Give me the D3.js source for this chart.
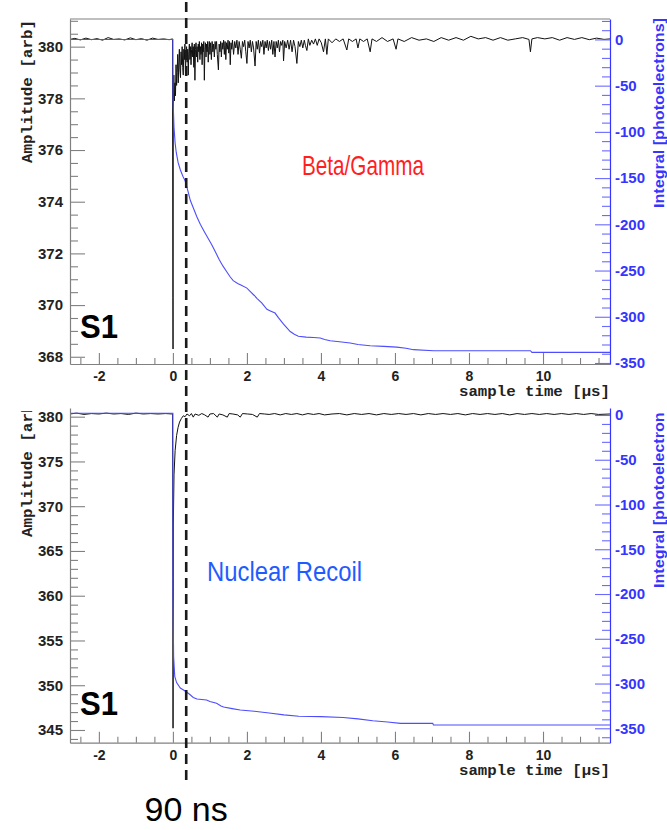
<!DOCTYPE html>
<html><head><meta charset="utf-8">
<script src="https://cdn.jsdelivr.net/npm/d3@7"></script>
<style>body{margin:0;background:#fff}svg{display:block}</style>
</head><body><svg id="c" width="667" height="830"></svg>
<script>
// ---------- data ----------
const xTicks = [-2, 0, 2, 4, 6, 8, 10];
const topAmpTicks = [368, 370, 372, 374, 376, 378, 380];
const botAmpTicks = [345, 350, 355, 360, 365, 370, 375, 380];
const integralTicks = [0, -50, -100, -150, -200, -250, -300, -350];
const panelTitles = ["Beta/Gamma", "Nuclear Recoil"];
const signalLabel = "S1";
const cutLabel = "90 ns";
const cutTime = 0.36; // position of the dashed line on the time axis (µs)

const topAmplitude = [
 [-2.78,380.28],[-2.65,380.32],[-2.5,380.26],[-2.35,380.33],[-2.2,380.27],[-2.05,380.31],[-1.9,380.25],[-1.75,380.35],
 [-1.6,380.28],[-1.45,380.3],[-1.3,380.26],[-1.15,380.34],[-1.0,380.27],[-0.85,380.31],[-0.7,380.25],[-0.55,380.33],
 [-0.4,380.28],[-0.25,380.3],[-0.1,380.27],[-0.01,380.3],[0.0,370.3],[0.004,368.3],[0.01,377.6],
 [0.025,378.9],[0.04,377.9],[0.055,378.6],[0.07,378.1],[0.085,379.3],[0.1,378.5],[0.115,379.0],[0.13,379.7],
 [0.145,378.6],[0.16,379.4],[0.175,379.9],[0.19,379.1],[0.205,378.8],[0.22,379.8],[0.235,379.3],[0.25,380.0],
 [0.265,379.2],[0.28,378.9],[0.295,379.9],[0.31,379.5],[0.325,380.1],[0.34,379.0],[0.355,379.7],[0.37,380.0],
 [0.385,379.4],[0.4,379.9],[0.415,378.9],[0.43,379.8],[0.445,380.1],[0.46,379.5],[0.475,380.0],[0.49,379.3],
 [0.505,379.9],[0.52,380.15],[0.535,379.6],[0.55,380.0],[0.565,379.2],[0.58,380.1],[0.595,378.7],[0.61,379.9],
 [0.625,380.15],[0.64,379.6],[0.655,380.0],[0.67,379.4],[0.685,380.1],[0.7,379.8],[0.715,380.2],[0.73,379.5],
 [0.745,380.0],[0.76,379.7],[0.775,380.15],[0.79,379.3],[0.805,380.1],[0.82,379.8],[0.835,380.2],[0.85,378.7],
 [0.865,379.9],[0.88,380.15],[0.895,379.6],[0.91,380.1],[0.925,379.8],[0.94,380.2],[0.955,379.4],[0.97,380.0],
 [0.985,380.2],[1.0,379.7],[1.02,380.15],[1.04,379.5],[1.06,380.2],[1.08,379.8],[1.1,380.1],[1.12,379.6],
 [1.14,380.2],[1.16,379.9],[1.18,380.2],[1.2,379.7],[1.23,379.1],[1.25,380.1],[1.27,379.8],[1.29,380.2],
 [1.31,379.6],[1.33,380.15],[1.35,379.9],[1.37,380.25],[1.39,379.7],[1.41,380.2],[1.43,379.5],[1.45,380.15],
 [1.47,379.9],[1.49,380.25],[1.51,379.75],[1.53,380.2],[1.55,379.3],[1.57,380.15],[1.59,379.9],[1.61,380.25],
 [1.64,379.7],[1.67,380.2],[1.7,379.95],[1.73,380.25],[1.76,379.7],[1.79,380.2],[1.82,379.9],[1.85,379.55],
 [1.88,380.2],[1.91,380.0],[1.94,380.25],[1.97,379.8],[2.0,379.35],[2.03,380.2],[2.06,379.95],[2.09,380.25],
 [2.12,379.8],[2.15,380.2],[2.18,379.95],[2.22,379.25],[2.25,380.2],[2.28,379.9],[2.31,380.25],[2.34,379.75],
 [2.37,380.2],[2.4,380.0],[2.43,380.25],[2.46,379.7],[2.49,380.2],[2.52,379.95],[2.55,380.25],[2.58,379.85],
 [2.61,380.2],[2.64,379.9],[2.67,380.25],[2.7,379.7],[2.73,380.2],[2.76,379.6],[2.79,380.2],[2.82,379.95],
 [2.85,380.25],[2.88,379.8],[2.91,380.2],[2.94,380.05],[2.97,380.25],[2.99,379.45],[3.02,380.2],[3.06,379.95],
 [3.1,380.25],[3.14,379.9],[3.18,380.25],[3.22,379.8],[3.26,380.25],[3.3,380.0],[3.35,379.35],[3.39,380.2],
 [3.43,380.0],[3.47,380.25],[3.51,379.95],[3.55,380.25],[3.58,380.05],[3.62,379.85],[3.66,380.3],[3.7,380.05],
 [3.75,380.25],[3.8,380.1],[3.85,380.3],[3.9,380.05],[3.95,380.3],[4.01,380.15],[4.07,379.8],[4.12,380.3],
 [4.16,379.7],[4.2,380.3],[4.3,380.15],[4.4,380.3],[4.5,380.2],[4.6,380.3],[4.7,379.87],[4.75,380.3],
 [4.85,380.2],[4.95,380.3],[5.0,379.95],[5.05,380.3],[5.15,380.2],[5.25,380.3],[5.33,379.8],[5.38,380.3],
 [5.5,380.2],[5.65,380.35],[5.8,380.2],[5.95,380.3],[6.03,379.9],[6.08,380.3],[6.25,380.2],[6.45,380.35],
 [6.65,380.25],[6.85,380.3],[7.05,380.2],[7.25,380.35],[7.45,380.25],[7.65,380.35],[7.85,380.25],[8.05,380.4],
 [8.25,380.3],[8.45,380.35],[8.65,380.25],[8.85,380.35],[9.05,380.25],[9.25,380.3],[9.45,380.35],[9.62,380.28],
 [9.66,379.8],[9.7,380.3],[9.85,380.35],[10.05,380.3],[10.25,380.35],[10.45,380.25],[10.65,380.35],[10.85,380.28],
 [11.05,380.35],[11.25,380.27],[11.45,380.33],[11.65,380.28],[11.81,380.3]
];

const topIntegral = [
 [-2.78,0],[0,0],[0.005,-66],[0.03,-95],[0.06,-112],[0.09,-122],[0.14,-133],[0.2,-141],[0.27,-148],[0.33,-153],
 [0.4,-163],[0.47,-174],[0.55,-182],[0.65,-192],[0.74,-200],[0.85,-208],[0.95,-215],[1.05,-222],[1.15,-230],
 [1.25,-238],[1.35,-245],[1.45,-251],[1.55,-257],[1.63,-261],[1.75,-264],[1.85,-266],[2.0,-269],[2.1,-273],
 [2.2,-277],[2.27,-280],[2.4,-285],[2.54,-292],[2.65,-294],[2.76,-296],[2.85,-301],[2.99,-308],[3.08,-312],
 [3.17,-316],[3.28,-319],[3.39,-321],[3.6,-322],[3.8,-322.5],[3.98,-323],[4.1,-324.5],[4.25,-326],[4.5,-327],
 [4.79,-328.4],[5.0,-330],[5.33,-331.3],[5.7,-332],[6.05,-332.8],[6.3,-334],[6.5,-335.6],[7.04,-336.7],
 [9.66,-336.7],[9.7,-338.5],[11.81,-338.5]
];

const botAmplitude = [
 [-2.78,380.3],[-2.6,380.4],[-2.4,380.25],[-2.2,380.35],[-2.0,380.3],[-1.8,380.4],[-1.6,380.3],[-1.4,380.35],
 [-1.2,380.25],[-1.0,380.4],[-0.8,380.3],[-0.6,380.35],[-0.4,380.3],[-0.2,380.35],[-0.01,380.3],[0.0,362],
 [0.004,345.2],[0.012,368],[0.03,373.5],[0.06,376.2],[0.1,377.9],[0.14,378.8],[0.18,379.4],[0.23,379.8],
 [0.28,380.1],[0.33,380.0],[0.38,380.3],[0.45,380.1],[0.5,380.35],[0.55,379.95],[0.6,380.3],[0.7,380.15],
 [0.78,380.35],[0.86,380.2],[0.95,379.95],[1.0,380.3],[1.1,380.35],[1.2,379.95],[1.25,380.3],[1.35,380.2],
 [1.47,379.95],[1.52,380.35],[1.62,380.3],[1.75,380.2],[1.82,379.95],[1.88,380.35],[2.02,380.3],[2.15,380.25],
 [2.28,379.95],[2.34,380.35],[2.48,380.3],[2.6,380.25],[2.75,380.35],[2.9,380.2],[3.05,380.35],[3.2,380.25],
 [3.35,380.35],[3.5,380.2],[3.65,380.35],[3.8,380.25],[3.95,380.35],[4.1,380.2],[4.3,380.3],[4.5,380.35],
 [4.7,380.2],[4.9,380.35],[5.1,380.25],[5.3,380.35],[5.5,380.2],[5.7,380.35],[5.9,380.25],[6.1,380.35],
 [6.3,380.25],[6.5,380.35],[6.7,380.2],[6.9,380.35],[7.1,380.25],[7.3,380.35],[7.5,380.25],[7.7,380.35],
 [7.9,380.2],[8.1,380.35],[8.3,380.25],[8.5,380.35],[8.7,380.25],[8.9,380.35],[9.1,380.2],[9.3,380.35],
 [9.5,380.25],[9.7,380.35],[9.9,380.25],[10.1,380.35],[10.3,380.25],[10.5,380.35],[10.7,380.25],[10.9,380.35],
 [11.1,380.25],[11.3,380.35],[11.5,380.25],[11.81,380.3]
];

const botIntegral = [
 [-2.78,2],[0,2],[0.003,-200],[0.02,-270],[0.05,-292],[0.1,-299],[0.2,-305],[0.33,-308.4],[0.45,-312],
 [0.55,-315.5],[0.65,-317.3],[0.91,-318.4],[1.0,-320],[1.18,-322],[1.3,-325],[1.37,-326.3],[1.6,-328],
 [1.82,-329.6],[2.2,-331],[2.6,-333],[3.0,-335],[3.4,-336.5],[4.0,-337],[4.6,-338],[5.0,-339.5],[5.4,-341.5],
 [5.8,-343],[6.15,-344.5],[7.02,-344.5],[7.04,-346.4],[11.81,-346.4]
];

// ---------- layout ----------
const svg = d3.select("#c");
const x = d3.scaleLinear().domain([-2.78, 11.81]).range([70, 610]);

const panels = [
  {id:"top", y0:19, y1:364, ampDomain:[367.72,381.07], intDomain:[-351.1,22.1],
   ampTicks: topAmpTicks, ampMinor: 0.5, amp: topAmplitude, integ: topIntegral,
   ampLabelStart:163, intLabelStart:208, ampClipTop:0, intClipTop:0, topLine:true,
   title: panelTitles[0], titleColor:"#ff1f1f", titleX:302, titleY:175, titleW:122,
   s1Y:338},
  {id:"bot", y0:408, y1:742.7, ampDomain:[343.58,380.97], intDomain:[-366.1,7.8],
   ampTicks: botAmpTicks, ampMinor: 1, amp: botAmplitude, integ: botIntegral,
   ampLabelStart:537, intLabelStart:588, ampClipTop:411, intClipTop:412, topLine:false,
   title: panelTitles[1], titleColor:"#1f5cff", titleX:207, titleY:581, titleW:155,
   s1Y:715}
];

const sans = "'Liberation Sans', Arial, Helvetica, sans-serif";
const mono = "'Liberation Mono', 'Courier New', monospace";
const blue = "#3535ff";

function range(a, b, s){ const r=[]; for(let v=a; v<=b+1e-9; v+=s) r.push(+v.toFixed(4)); return r; }

panels.forEach((p, i) => {
  const yA = d3.scaleLinear().domain(p.ampDomain).range([p.y1, p.y0]);
  const yI = d3.scaleLinear().domain(p.intDomain).range([p.y1, p.y0]);
  const g = svg.append("g");

  const clipId = "clip-" + p.id;
  svg.append("clipPath").attr("id", clipId).append("rect")
     .attr("x", 70).attr("y", p.y0).attr("width", 540).attr("height", p.y1 - p.y0);
  svg.append("clipPath").attr("id", "aclip-" + p.id).append("rect")
     .attr("x", 0).attr("y", p.ampClipTop).attr("width", 667).attr("height", 400);
  svg.append("clipPath").attr("id", "iclip-" + p.id).append("rect")
     .attr("x", 0).attr("y", p.intClipTop).attr("width", 667).attr("height", 400);

  if (p.topLine) g.append("line").attr("x1",70).attr("x2",610).attr("y1",p.y0).attr("y2",p.y0)
       .attr("stroke","#808080").attr("stroke-width",1.2);

  // traces
  const tr = g.append("g").attr("clip-path", `url(#${clipId})`);
  tr.append("path").datum(p.amp)
    .attr("d", d3.line().x(d => x(d[0])).y(d => yA(d[1])))
    .attr("fill","none").attr("stroke","#111").attr("stroke-width",1);
  tr.append("path").datum(p.integ)
    .attr("d", d3.line().x(d => x(d[0])).y(d => yI(d[1])))
    .attr("fill","none").attr("stroke","#4d4dff").attr("stroke-width",1.1);

  // left axis (amplitude)
  const minorA = range(Math.ceil(p.ampDomain[0]/p.ampMinor)*p.ampMinor, p.ampDomain[1], p.ampMinor)
      .filter(v => !p.ampTicks.includes(v));
  const la = g.append("g").attr("transform","translate(70,0)")
     .call(d3.axisLeft(yA).tickValues(p.ampTicks).tickSize(-15).tickSizeOuter(0).tickPadding(7).tickFormat(d => String(d)));
  g.append("g").attr("transform","translate(70,0)")
     .call(d3.axisLeft(yA).tickValues(minorA).tickSize(-8).tickSizeOuter(0).tickFormat(""))
     .select(".domain").remove();

  // bottom axis (time)
  const minorX = range(-2.5, 11.5, 0.5).filter(v => !xTicks.includes(v));
  g.append("g").attr("transform",`translate(0,${p.y1})`)
     .call(d3.axisBottom(x).tickValues(xTicks).tickSize(-11).tickSizeOuter(0).tickPadding(7.5).tickFormat(d => String(d)));
  g.append("g").attr("transform",`translate(0,${p.y1})`)
     .call(d3.axisBottom(x).tickValues(minorX).tickSize(-6).tickSizeOuter(0).tickFormat(""))
     .select(".domain").remove();

  // right axis (integral)
  const minorI = range(-360, 20, 10).filter(v => !integralTicks.includes(v) && v >= p.intDomain[0] && v <= p.intDomain[1]);
  g.append("g").attr("class","raxis").attr("transform","translate(610,0)")
     .call(d3.axisRight(yI).tickValues(integralTicks).tickSize(-15).tickSizeOuter(0).tickPadding(5).tickFormat(d => String(d)));
  g.append("g").attr("class","raxis").attr("transform","translate(610,0)")
     .call(d3.axisRight(yI).tickValues(minorI).tickSize(-8).tickSizeOuter(0).tickFormat(""))
     .select(".domain").remove();

  g.selectAll(".domain").attr("stroke","#808080").attr("stroke-width",1.2);
  g.selectAll(".tick line").attr("stroke","#808080").attr("stroke-width",1.1);
  g.selectAll(".tick text").attr("fill","#222").style("font-family",sans).style("font-weight","bold").style("font-size","14px");
  g.selectAll(".raxis .domain").attr("stroke",blue);
  g.selectAll(".raxis .tick line").attr("stroke","#6a6aff");
  g.selectAll(".raxis .tick text").attr("fill",blue).style("font-size","15px");
  la.selectAll(".tick text").style("font-size","15px");

  // axis titles
  g.append("g").attr("clip-path", `url(#aclip-${p.id})`)
    .append("text").attr("transform",`translate(32,${p.ampLabelStart}) rotate(-90)`)
    .attr("textLength",143).attr("lengthAdjust","spacingAndGlyphs")
    .style("font-family",mono).style("font-weight","bold").style("font-size","14px").attr("fill","#222")
    .text("Amplitude [arb]");
  g.append("g").attr("clip-path", `url(#iclip-${p.id})`)
    .append("text").attr("transform",`translate(664,${p.intLabelStart}) rotate(-90)`)
    .attr("textLength",190).attr("lengthAdjust","spacingAndGlyphs")
    .style("font-family",sans).style("font-weight","bold").style("font-size","15px").attr("fill",blue)
    .text("Integral [photoelectrons]");
  g.append("text").attr("x",610).attr("y",p.y1+32).attr("text-anchor","end")
    .attr("textLength",151).attr("lengthAdjust","spacingAndGlyphs")
    .style("font-family",mono).style("font-weight","bold").style("font-size","15px").attr("fill","#222")
    .text("sample time [µs]");

  // in-plot labels
  g.append("text").attr("x",p.titleX).attr("y",p.titleY)
    .attr("textLength",p.titleW).attr("lengthAdjust","spacingAndGlyphs")
    .style("font-family",sans).style("font-size","28px").attr("fill",p.titleColor).text(p.title);
  g.append("text").attr("x",80).attr("y",p.s1Y)
    .attr("textLength",38).attr("lengthAdjust","spacingAndGlyphs")
    .style("font-family",sans).style("font-weight","bold").style("font-size","33px").attr("fill","#000").text(signalLabel);
});

// dashed cut line
svg.append("line").attr("x1",x(cutTime)).attr("x2",x(cutTime)).attr("y1",2).attr("y2",782)
   .attr("stroke","#1a1a1a").attr("stroke-width",2.6).attr("stroke-dasharray","10,6");
svg.append("text").attr("x",x(cutTime)).attr("y",821).attr("text-anchor","middle")
   .style("font-family",sans).style("font-size","34px").attr("fill","#000").text(cutLabel);
</script></body></html>
